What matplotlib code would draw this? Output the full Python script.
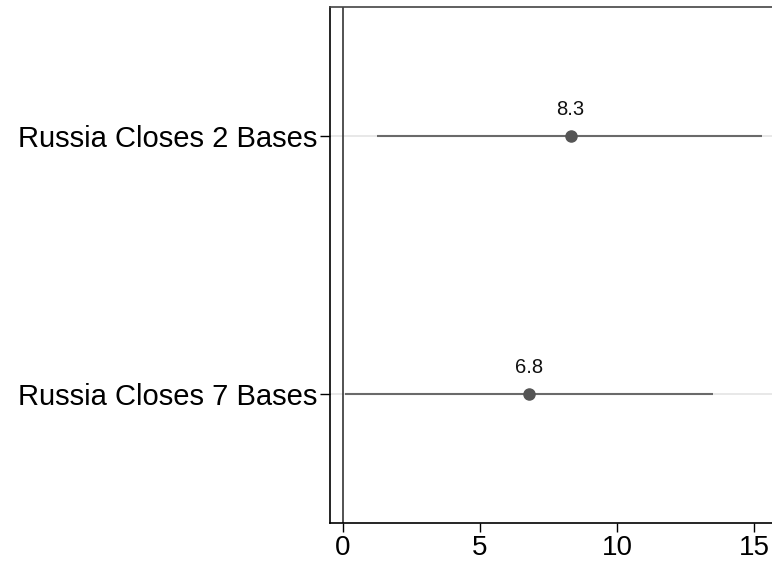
import matplotlib
matplotlib.use("Agg")
import matplotlib.pyplot as plt

plt.rcParams['font.family'] = ['Liberation Sans', 'DejaVu Sans']

labels = ["Russia Closes 2 Bases", "Russia Closes 7 Bases"]
estimates = [8.3, 6.8]
ci_low = [1.24, 0.07]
ci_high = [15.27, 13.5]
xticks = [0, 5, 10, 15]

W, H = 772, 563
fig = plt.figure(figsize=(W / 100, H / 100), dpi=100)
px_per_unit = 27.42
left_px, right_px, top_px, bottom_px = 330, 800, 7, 523
ax = fig.add_axes([left_px / W, (H - bottom_px) / H,
                   (right_px - left_px) / W, (bottom_px - top_px) / H])
x0 = -13 / px_per_unit
ax.set_xlim(x0, x0 + (right_px - left_px) / px_per_unit)
ax.set_ylim(2.5, 0.5)

ypos = list(range(1, len(labels) + 1))
for y in ypos:
    ax.axhline(y, color="#e4e4e4", lw=1.2, zorder=1)
ax.axvline(0, color="#444444", lw=1.3, zorder=2)

for y, est, lo, hi in zip(ypos, estimates, ci_low, ci_high):
    ax.plot([lo, hi], [y, y], color="#6a6a6a", lw=1.5, zorder=3,
            solid_capstyle="butt")
    ax.plot(est, y, "o", color="#555555", ms=8, zorder=4)
    ax.annotate(f"{est:.1f}", (est, y), xytext=(0, 12),
                textcoords="offset points", ha="center", va="bottom",
                fontsize=14.5, color="#111111")

ax.set_yticks(ypos)
ax.set_yticklabels(labels, fontsize=21)
ax.set_xticks(xticks)
ax.set_xticklabels([str(t) for t in xticks], fontsize=20)
ax.tick_params(axis="y", length=7, width=1.0, color="black", pad=2)
ax.tick_params(axis="x", length=6.5, width=1.0, color="black", pad=2)

for side in ["left", "bottom"]:
    ax.spines[side].set_linewidth(1.2)
    ax.spines[side].set_color("black")
ax.spines["top"].set_linewidth(1.2)
ax.spines["top"].set_color("#444444")
ax.spines["right"].set_visible(False)

fig.savefig("out.png", dpi=100)
